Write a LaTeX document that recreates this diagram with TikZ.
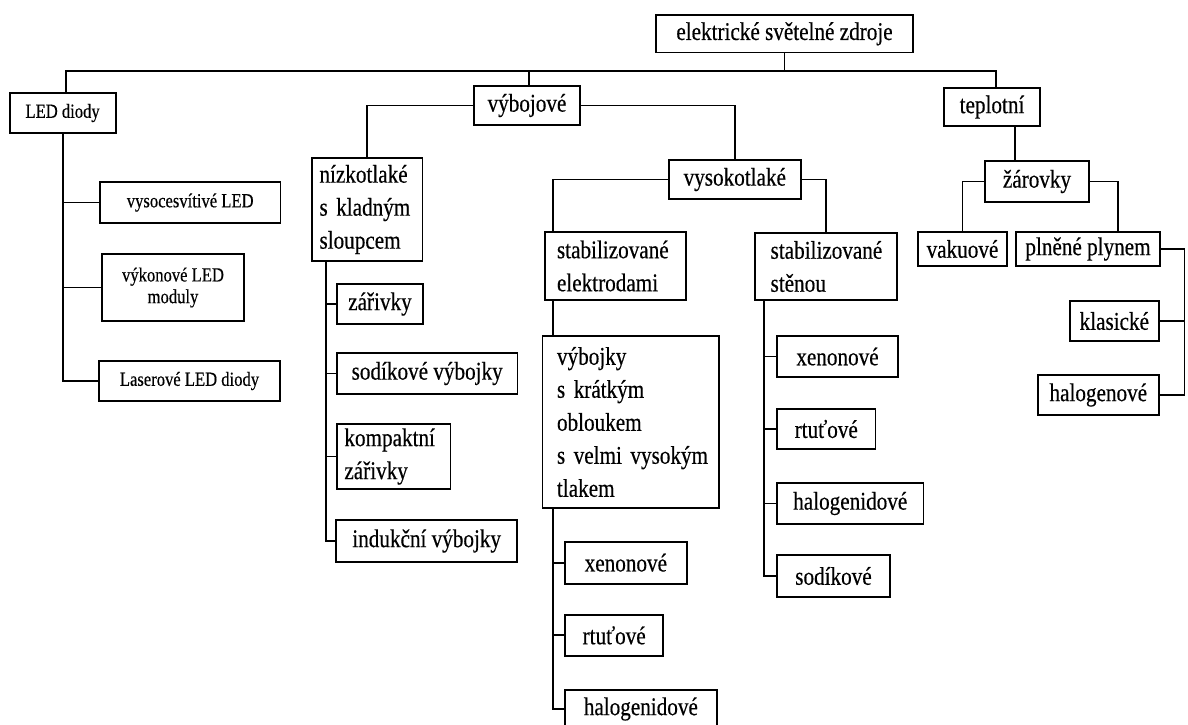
\documentclass[tikz,border=0pt]{standalone}
\usepackage{fontspec}
\setmainfont[FakeStretch=0.83,FakeBold=0.4]{Liberation Serif}
\begin{document}
\begin{tikzpicture}[x=1pt,y=-1pt,
  line width=1.8pt,
  bx/.style={draw, line width=1.8pt, inner sep=0pt, align=center,
    font=\fontsize{25.5}{33}\selectfont},
  ledbx/.style={bx, font=\fontsize{20}{21.7}\selectfont},
  sz/.style 2 args={minimum width=#1, minimum height=#2},
  lbx/.style 2 args={bx, align=left, inner xsep=#1, text width=#2},
  wire/.style={line width=1.8pt}]

\useasboundingbox (0,0) rectangle (1188,724);

% ---- root and first level ----
\node[bx, sz={257}{37.5}] (root) at (784.5,33.8) {elektrické světelné zdroje};
\node[ledbx, sz={106}{40}] (led) at (62.6,113) {LED diody};
\node[bx, sz={106}{39}] (vyb) at (527,105.5) {výbojové};
\node[bx, sz={96}{38}] (tep) at (992,107) {teplotní};

% ---- LED branch ----
\node[ledbx, sz={180.5}{40.5}] (vysled) at (190.2,202.5) {vysocesvítivé LED};
\node[ledbx, sz={142}{67}] (vykled) at (173,287.5) {výkonové LED\\moduly};
\node[ledbx, sz={181}{40}] (lasled) at (189.5,381) {Laserové LED diody};

% ---- low pressure discharge lamps ----
\node[lbx={7.5pt}{95.5pt}, sz={110.5}{103}] (nizko) at (367.25,209.5)
  {\mbox{nízkotlaké}\\\mbox{s kladným}\\\mbox{sloupcem}};
\node[bx, sz={86}{40}] (zariv) at (380,304) {zářivky};
\node[bx, sz={180.4}{41}] (sodvyb) at (427.2,373.5) {sodíkové výbojky};
\node[lbx={7.4pt}{98.6pt}, sz={113.4}{65}] (kompakt) at (393.7,456.5)
  {\mbox{kompaktní}\\\mbox{zářivky}};
\node[bx, sz={181.3}{42}] (induk) at (426.7,541) {indukční výbojky};

% ---- high pressure discharge lamps ----
\node[bx, sz={131.6}{39}] (vysoko) at (734.8,179.5) {vysokotlaké};
\node[lbx={12.4pt}{116.6pt}, sz={141.4}{68}] (stabel) at (615.3,266)
  {\mbox{stabilizované}\\\mbox{elektrodami}};
\node[lbx={14.5pt}{147.5pt}, sz={176.5}{172}] (vybojky) at (630.75,422)
  {\mbox{výbojky}\\\mbox{s krátkým}\\\mbox{obloukem}\\\mbox{s velmi vysokým}\\\mbox{tlakem}};
\node[bx, sz={121.7}{42}] (xen2) at (625.85,562.7) {xenonové};
\node[bx, sz={98.3}{40.7}] (rtu2) at (614.15,635.35) {rtuťové};
\node[bx, sz={151.7}{38}] (hal2) at (640.85,709) {halogenidové};

\node[lbx={15.6pt}{110.8pt}, sz={142}{67}] (stabst) at (826,266.5)
  {\mbox{stabilizované}\\\mbox{stěnou}};
\node[bx, sz={121}{41}] (xen1) at (837.5,356.5) {xenonové};
\node[bx, sz={98.5}{40}] (rtu1) at (826.25,429) {rtuťové};
\node[bx, sz={146.5}{41}] (hal1) at (850.25,503.5) {halogenidové};
\node[bx, sz={113}{42}] (sod1) at (833.5,576) {sodíkové};

% ---- thermal sources ----
\node[bx, sz={104}{41}] (zar) at (1037,181.5) {žárovky};
\node[bx, sz={89}{34}] (vak) at (962.5,249) {vakuové};
\node[bx, sz={144}{34}] (pln) at (1088,249) {plněné plynem};
\node[bx, sz={88.6}{40}] (klas) at (1114.3,321) {klasické};
\node[bx, sz={120.6}{40}] (halog) at (1098.3,395) {halogenové};

% ---- connector helper points ----
\coordinate (bus) at (0,70.7);
\coordinate (ledtop) at ([xshift=3.4pt]led.north);
\coordinate (vybtop) at ([xshift=2pt]vyb.north);
\coordinate (teptop) at ([xshift=4pt]tep.north);
\coordinate (nzs) at ([xshift=15pt]nizko.south west);
\coordinate (sel) at ([xshift=9.4pt]stabel.north west);
\coordinate (seb) at ([xshift=9.4pt]stabel.south west);
\coordinate (vbs) at ([xshift=11pt]vybojky.south west);
\coordinate (sts) at ([xshift=10pt]stabst.south west);
\coordinate (tz) at ([xshift=23pt]tep.south);
\coordinate (zp) at ([xshift=30pt]pln.north);
\coordinate (rb) at ([xshift=23.5pt]pln.east);

% ---- connectors ----
\draw[wire] (root.south) -- (root.south |- bus);
\draw[wire] (ledtop) -- (ledtop |- bus) -- (teptop |- bus) -- (teptop);
\draw[wire] (vybtop) -- (vybtop |- bus);

\draw[wire] (led.south) |- (lasled.west);
\draw[wire] (vysled.west) -- (vysled.west -| led.south);
\draw[wire] (vykled.west) -- (vykled.west -| led.south);

\draw[wire] (vyb.west) -| (nizko.north);
\draw[wire] (vyb.east) -| (vysoko.north);

\draw[wire] (nzs) |- (induk.west);
\draw[wire] (zariv.west) -- (zariv.west -| nzs);
\draw[wire] (sodvyb.west) -- (sodvyb.west -| nzs);
\draw[wire] (kompakt.west) -- (kompakt.west -| nzs);

\draw[wire] (vysoko.west) -| (sel);
\draw[wire] (seb) -- (seb |- vybojky.north);
\draw[wire] (vbs) |- (hal2.west);
\draw[wire] (xen2.west) -- (xen2.west -| vbs);
\draw[wire] (rtu2.west) -- (rtu2.west -| vbs);

\draw[wire] (vysoko.east) -| (stabst.north);
\draw[wire] (sts) |- (sod1.west);
\draw[wire] (xen1.west) -- (xen1.west -| sts);
\draw[wire] (rtu1.west) -- (rtu1.west -| sts);
\draw[wire] (hal1.west) -- (hal1.west -| sts);

\draw[wire] (tz) -- (tz |- zar.north);
\draw[wire] (zar.west) -| (vak.north);
\draw[wire] (zar.east) -| (zp);
\draw[wire] (pln.east) -- (rb) |- (halog.east);
\draw[wire] (klas.east) -- (klas.east -| rb);

\end{tikzpicture}
\end{document}
